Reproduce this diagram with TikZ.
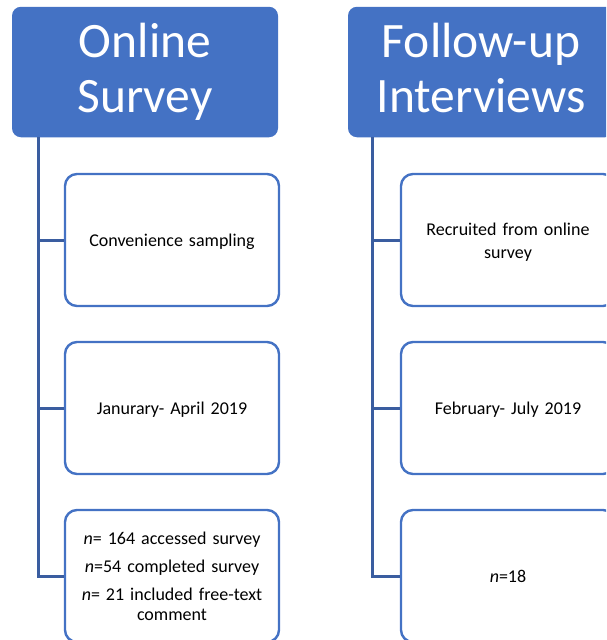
\documentclass[tikz,border=0pt]{standalone}
\usepackage{fontspec}
\setmainfont{Carlito}
\definecolor{accent}{HTML}{4472C4}
\definecolor{linkblue}{HTML}{3A5DA0}
% struts that fix the height/depth of the first and last text lines
\newcommand\headstrut{\rule[-12pt]{0pt}{49pt}}
\newcommand\boxstrut{\rule[-4.5pt]{0pt}{22pt}}
\tikzset{
  header/.style={fill=accent, rounded corners=9pt, minimum width=266pt,
    minimum height=130.5pt, inner sep=0pt, text=white, align=center,
    font=\fontsize{49.5}{55}\selectfont},
  item/.style={draw=accent, line width=2.4pt, fill=white, rounded corners=12pt,
    minimum width=214pt, minimum height=132pt, inner sep=0pt, align=center,
    text width=200pt, font=\fontsize{18}{20.5}\selectfont},
  conn/.style={draw=linkblue, line width=3pt},
}
\begin{document}
\begin{tikzpicture}[x=1pt, y=-1pt]
  \useasboundingbox (0,0) rectangle (606,640);
  \clip (0,0) rectangle (606,640);

  % left column
  \node[header] (h1) at (145,72) {\headstrut Online\\Survey\headstrut};
  \node[item] (a1) at (172,240) {\boxstrut Convenience sampling\boxstrut};
  \node[item] (a2) at (172,408) {\boxstrut Janurary- April 2019\boxstrut};
  \node[item] (a3) at (172,576) {\boxstrut\textit{n}= 164 accessed survey\\[7.5pt]
    \textit{n}=54 completed survey\\[7.5pt]
    \textit{n}= 21 included free-text\\comment\boxstrut};

  % right column
  \node[header] (h2) at (481,72) {\headstrut Follow-up\\Interviews\headstrut};
  \node[item] (b1) at (508,240) {\boxstrut Recruited from online\\survey\boxstrut};
  \node[item] (b2) at (508,408) {\boxstrut February- July 2019\boxstrut};
  \node[item] (b3) at (508,576) {\boxstrut\textit{n}=18\boxstrut};

  % tree connectors
  \coordinate (ta) at ([xshift=26.5pt]h1.south west);
  \coordinate (tb) at ([xshift=25pt]h2.south west);
  \draw[conn] (ta) |- (a3.west);
  \draw[conn] (ta |- a1.west) -- (a1.west);
  \draw[conn] (ta |- a2.west) -- (a2.west);
  \draw[conn] (tb) |- (b3.west);
  \draw[conn] (tb |- b1.west) -- (b1.west);
  \draw[conn] (tb |- b2.west) -- (b2.west);
\end{tikzpicture}
\end{document}
